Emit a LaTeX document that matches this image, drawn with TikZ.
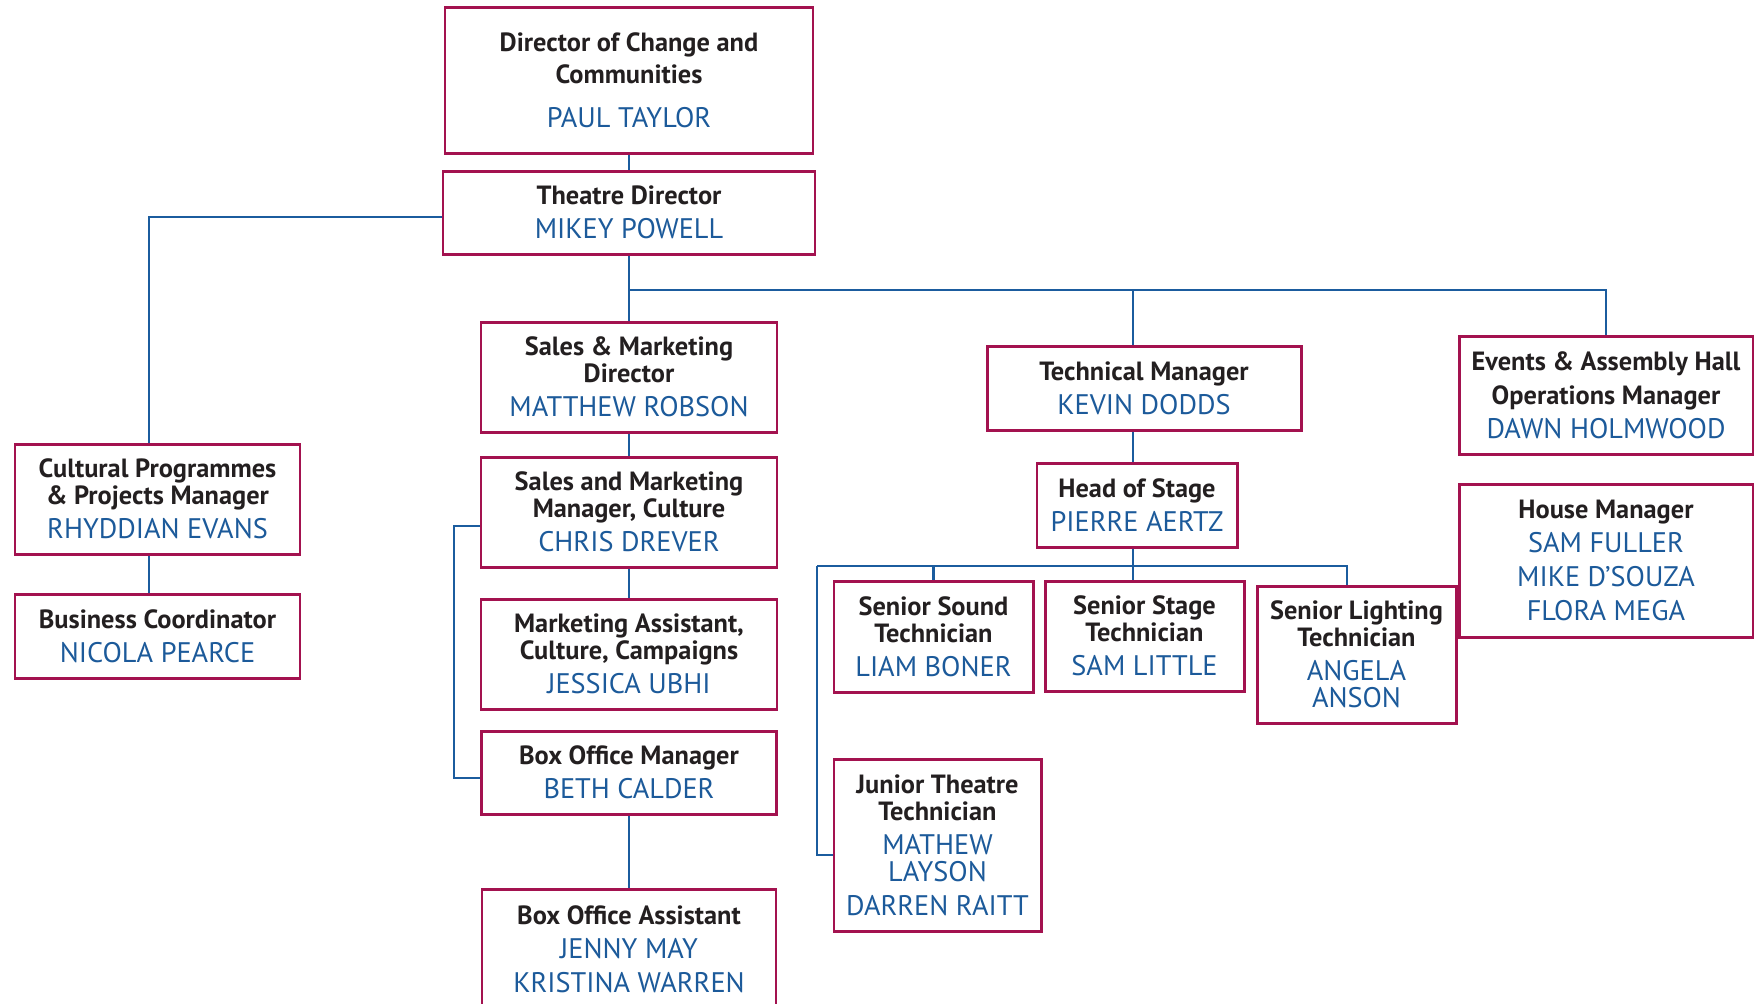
\documentclass[tikz,border=0pt]{standalone}
\usepackage{fontspec}
\setmainfont{PT Sans}
\usepackage{tikz}
\definecolor{boxred}{HTML}{A3124F}
\definecolor{linkblue}{HTML}{1B5C9E}
\definecolor{nameblue}{HTML}{1C5A9A}
\definecolor{titledark}{HTML}{231F20}
\newcommand{\who}[1]{{\mdseries\fontsize{8.05}{7.7}\selectfont\color{nameblue}#1}}

\begin{document}
\begin{tikzpicture}[post/.style={draw=boxred, line width=0.85pt, rectangle, align=center, inner sep=0pt, text=titledark, font=\bfseries\fontsize{7.5}{7.7}\selectfont}, link/.style={draw=linkblue, line width=0.6pt}]
	\useasboundingbox (0cm,0cm) rectangle (17.54cm,-10.04cm);
	\node [post, minimum width=3.68cm, minimum height=1.46cm] (dircc) at (6.29cm,-0.80cm) {Director of Change and\\[1.3pt]Communities\\[4.8pt]\who{PAUL TAYLOR}};
	\node [post, minimum width=3.72cm, minimum height=0.83cm] (theatre) at (6.29cm,-2.125cm) {Theatre Director\\[2pt]\who{MIKEY POWELL}};
	\node [post, minimum width=2.96cm, minimum height=1.10cm] (salesdir) at (6.29cm,-3.77cm) {Sales \& Marketing\\Director\\[2pt]\who{MATTHEW ROBSON}};
	\node [post, minimum width=2.96cm, minimum height=1.10cm] (salesmgr) at (6.29cm,-5.12cm) {Sales and Marketing\\Manager, Culture\\[2pt]\who{CHRIS DREVER}};
	\node [post, minimum width=2.96cm, minimum height=1.10cm] (mktasst) at (6.29cm,-6.54cm) {Marketing Assistant,\\Culture, Campaigns\\[2pt]\who{JESSICA UBHI}};
	\node [post, minimum width=2.95cm, minimum height=0.83cm] (boxmgr) at (6.29cm,-7.725cm) {Box Office Manager\\[2pt]\who{BETH CALDER}};
	\node [post, minimum width=2.94cm, minimum height=1.21cm] (boxasst) at (6.29cm,-9.495cm) {Box Office Assistant\\[2pt]\who{JENNY MAY}\\[2pt]\who{KRISTINA WARREN}};
	\node [post, minimum width=3.14cm, minimum height=0.84cm] (techmgr) at (11.44cm,-3.88cm) {Technical Manager\\[2pt]\who{KEVIN DODDS}};
	\node [post, minimum width=2.00cm, minimum height=0.84cm] (hos) at (11.37cm,-5.05cm) {Head of Stage\\[2pt]\who{PIERRE AERTZ}};
	\node [post, minimum width=2.94cm, minimum height=1.18cm] (events) at (16.06cm,-3.95cm) {Events \& Assembly Hall\\[2pt]Operations Manager\\[2pt]\who{DAWN HOLMWOOD}};
	\node [post, minimum width=2.94cm, minimum height=1.53cm] (house) at (16.06cm,-5.605cm) {House Manager\\[2pt]\who{SAM FULLER}\\[2pt]\who{MIKE D’SOUZA}\\[2pt]\who{FLORA MEGA}};
	\node [post, minimum width=1.99cm, minimum height=1.11cm] (sound) at (9.335cm,-6.365cm) {Senior Sound\\Technician\\[2pt]\who{LIAM BONER}};
	\node [post, minimum width=1.99cm, minimum height=1.10cm] (stage) at (11.445cm,-6.36cm) {Senior Stage\\Technician\\[2pt]\who{SAM LITTLE}};
	\node [post, minimum width=1.99cm, minimum height=1.37cm] (lighting) at (13.565cm,-6.545cm) {Senior Lighting\\Technician\\[2pt]\who{ANGELA}\\\who{ANSON}};
	\node [post, minimum width=2.07cm, minimum height=1.72cm] (junior) at (9.375cm,-8.45cm) {Junior Theatre\\Technician\\[2pt]\who{MATHEW}\\\who{LAYSON}\\[2pt]\who{DARREN RAITT}};
	\node [post, minimum width=2.85cm, minimum height=1.10cm] (cultural) at (1.575cm,-4.99cm) {Cultural Programmes\\\& Projects Manager\\[2pt]\who{RHYDDIAN EVANS}};
	\node [post, minimum width=2.85cm, minimum height=0.84cm] (business) at (1.575cm,-6.36cm) {Business Coordinator\\[2pt]\who{NICOLA PEARCE}};
	% junctions
	\coordinate (trunk) at (6.29cm,-2.90cm);
	\coordinate (techdrop) at (11.33cm,-2.90cm);
	\coordinate (stagebus) at (11.33cm,-5.66cm);
	\coordinate (stagebusL) at (8.17cm,-5.66cm);
	\coordinate (stagebusR) at (13.47cm,-5.66cm);
	\coordinate (juniorin) at (8.17cm,-8.55cm);
	\coordinate (brackettop) at (4.54cm,-5.26cm);
	\coordinate (bracketbot) at (4.54cm,-7.78cm);
	\coordinate (culturalin) at (1.49cm,-2.17cm);
	\path [link] (dircc) edge (theatre);
	\path [link] (theatre) edge (salesdir);
	\path [link] (salesdir) edge (salesmgr);
	\path [link] (salesmgr) edge (mktasst);
	\path [link] (boxmgr) edge (boxasst);
	\draw [link] (trunk) -| (events.north);
	\draw [link] (techdrop) -- (techdrop |- techmgr.north);
	\draw [link] (techmgr.south -| techdrop) -- (hos.north -| techdrop);
	\draw [link] (hos.south -| stagebus) -- (stagebus);
	\draw [link] (stagebusL) -- (stagebusR) -- (lighting.north -| stagebusR);
	\draw [link] (stagebus) -- (stage.north -| stagebus);
	\draw [link] (sound.north) -- (sound.north |- stagebus);
	\draw [link] (stagebusL) -- (juniorin) -- (juniorin -| junior.west);
	\draw [link] (salesmgr.west |- brackettop) -- (brackettop) -- (bracketbot) -- (bracketbot -| boxmgr.west);
	\draw [link] (theatre.west |- culturalin) -- (culturalin) -- (culturalin |- cultural.north);
	\draw [link] (cultural.south -| culturalin) -- (business.north -| culturalin);
\end{tikzpicture}
\end{document}
